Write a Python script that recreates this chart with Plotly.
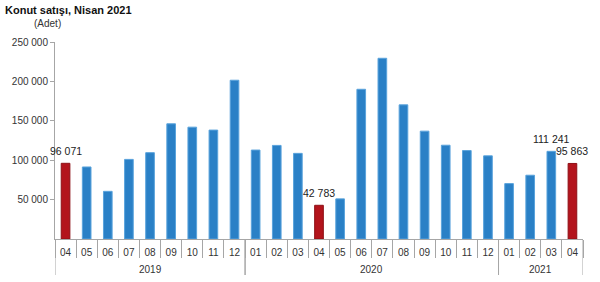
import plotly.graph_objects as go

years = ["2019"] * 9 + ["2020"] * 12 + ["2021"] * 4
months = ["04", "05", "06", "07", "08", "09", "10", "11", "12",
          "01", "02", "03", "04", "05", "06", "07", "08", "09", "10", "11", "12",
          "01", "02", "03", "04"]
sales = [96071, 91406, 60488, 101011, 109570, 146188, 141929, 138222, 201498,
         112880, 118753, 108670, 42783, 50936, 190012, 229357, 170243, 136862,
         119009, 112241, 105555,
         70301, 80926, 111241, 95863]
highlight = [m == "04" for m in months]
labelled = [0, 12, 23, 24]

keys = [f"{y}-{m}" for y, m in zip(years, months)]
colors = ["#b3141c" if h else "#2a80c6" for h in highlight]
edges = ["#8e1016" if h else "#5aa3dc" for h in highlight]

fig = go.Figure(go.Bar(
    x=keys, y=sales,
    marker=dict(color=colors, line=dict(color=edges, width=1)),
))

line_col = "#a6a6a6"
groups = []
for i, y in enumerate(years):
    if not groups or groups[-1][0] != y:
        groups.append([y, i, i])
    else:
        groups[-1][2] = i

annotations = [dict(text="(Adet)", xref="paper", yref="paper", x=-0.015, y=1.095,
                    showarrow=False, xanchor="center", yanchor="middle",
                    font=dict(size=10, color="#333333"))]
for i in labelled:
    annotations.append(dict(text=f"{sales[i]:,}".replace(",", " "), xref="x", yref="y",
                            x=keys[i], y=sales[i], yanchor="bottom", xanchor="center",
                            yshift=4, showarrow=False,
                            font=dict(size=10.5, color="#222222")))
shapes = []
for y, a, b in groups:
    annotations.append(dict(text=y, xref="x", yref="paper", x=(a + b) / 2, y=-30 / 197,
                            showarrow=False, xanchor="center", yanchor="middle",
                            font=dict(size=10, color="#333333")))
    for edge in (a - 0.5, b + 0.5):
        shapes.append(dict(type="line", xref="x", yref="paper", x0=edge, x1=edge,
                           y0=0, y1=-36 / 197, line=dict(color=line_col, width=1)))

fig.update_layout(
    width=600, height=282,
    margin=dict(l=50, r=17, t=42, b=43),
    plot_bgcolor="white", paper_bgcolor="white",
    bargap=0.59,
    showlegend=False,
    separators=", ",
    font=dict(family="Liberation Sans, Arial", size=10, color="#333333"),
    title=dict(text="<b>Konut satışı, Nisan 2021</b>", x=5 / 600, xref="container", xanchor="left",
               y=1 - 10 / 282, yref="container", yanchor="middle",
               font=dict(size=11, color="#111111", family="Liberation Sans, Arial")),
    annotations=annotations,
    shapes=shapes,
)
fig.update_yaxes(range=[0, 250000], tickvals=[50000, 100000, 150000, 200000, 250000],
                 tickformat=",", showgrid=False, zeroline=False,
                 showline=True, linecolor=line_col, linewidth=1,
                 ticks="outside", ticklen=4, tickcolor=line_col,
                 tickfont=dict(size=10, color="#333333"))
fig.update_xaxes(type="category", tickvals=keys, ticktext=months,
                 range=[-0.5, len(keys) - 0.5], autorange=False,
                 showgrid=False, showline=True, linecolor=line_col,
                 linewidth=1, ticks="outside", tickson="boundaries", ticklen=18,
                 ticklabelstandoff=4, tickangle=0,
                 tickcolor=line_col, tickfont=dict(size=10, color="#333333"))

fig.write_html("out.html")
